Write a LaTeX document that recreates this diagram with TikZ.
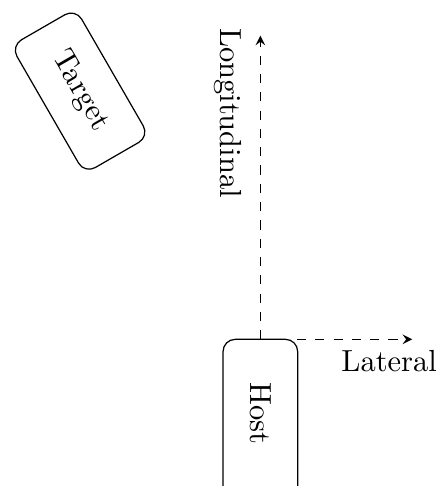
\documentclass[tikz,border=0pt]{standalone}
\usepackage{tikz}

\tikzset{
	car/.style={draw, rounded corners, minimum width=1.7cm, minimum height=0.86cm},
	axis/.style={dashed, -stealth}
}

\begin{document}
\begin{tikzpicture}
			%%%%% START %%%%%
			
			\clip (-3, -1.69) rectangle (2.04, 3.91);
			
			\coordinate (o) at (0, 0);
			\coordinate (lonend) at (0, 3.5);
			\coordinate (latend) at (1.75, 0);
			
			% host car runs past the lower edge
			\node[car, rotate=-90, minimum width=2.2cm] (host) at (0, -1.1) {};
			\node[rotate=-90] (hostname) at (0, -0.853) {Host};
			\node[car, rotate=-60] (target) at (-2.077, 2.86) {Target};
			
			\draw[axis] (o) -- (lonend);
			\draw[axis] (o) -- (latend);
			
			\node[rotate=-90, anchor=north] (lon) at (-0.088, 2.607) {Longitudinal};
			\node[anchor=north] (lat) at (1.484, 0) {Lateral};
			
			%%%%% END %%%%%
		\end{tikzpicture}
\end{document}
